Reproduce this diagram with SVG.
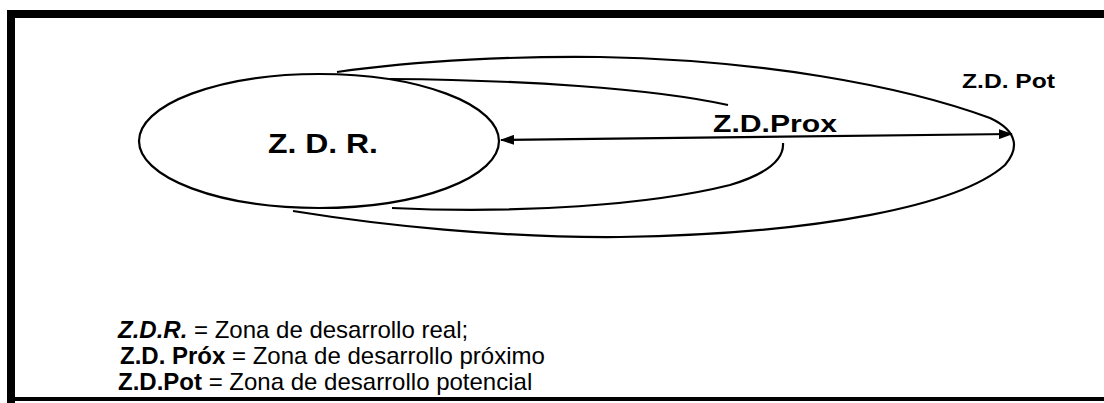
<svg xmlns="http://www.w3.org/2000/svg" width="1104" height="403" viewBox="0 0 1104 403">
  <style>
    .ln { fill: none; stroke: #000; stroke-width: 2.2; }
    .lbl { font-family: "Liberation Sans", Arial, sans-serif; fill: #000; }
    .b { font-weight: bold; }
  </style>
  <defs>
    <marker id="ah" viewBox="0 0 14 10" refX="13" refY="5" markerWidth="14" markerHeight="10" markerUnits="userSpaceOnUse" orient="auto-start-reverse">
      <path d="M0,0 L14,5 L0,10 Z" fill="#000"/>
    </marker>
  </defs>
  <rect width="1104" height="403" fill="#fff"/>
  <g id="frame" fill="#000">
    <rect x="7" y="10" width="1097" height="8"/>
    <rect x="7" y="10" width="8" height="393"/>
    <rect x="7" y="397" width="1097" height="4"/>
  </g>
  <g id="zdpot">
    <path class="ln" d="M337,72 C420,60 520,56 600,57 C760,60 900,85 990,118 C1020,132 1018,150 1005,165 C960,205 820,234 620,237 C500,238 380,225 293,211"/>
    <text class="lbl" x="962" y="88" font-size="21" font-weight="600" textLength="93" lengthAdjust="spacingAndGlyphs">Z.D. Pot</text>
  </g>
  <g id="zdprox">
    <path class="ln" d="M390,79 C520,80 650,88 728,105"/>
    <path class="ln" d="M392,208 C520,214 650,205 730,185 C770,173 784,158 783,143"/>
    <text class="lbl b" x="713" y="132" font-size="24" textLength="124" lengthAdjust="spacingAndGlyphs">Z.D.Prox</text>
  </g>
  <g id="zdr">
    <ellipse class="ln" cx="319" cy="141" rx="180" ry="67" fill="#fff"/>
    <text class="lbl b" x="268" y="153" font-size="28" textLength="110" lengthAdjust="spacingAndGlyphs">Z. D. R.</text>
  </g>
  <g id="connectors">
    <line class="ln" x1="501" y1="140" x2="1012" y2="134" marker-start="url(#ah)" marker-end="url(#ah)"/>
  </g>
  <g id="legend" class="lbl" font-size="24">
    <text x="118" y="338"><tspan class="b" font-style="italic">Z.D.R.</tspan> = Zona de desarrollo real;</text>
    <text x="120" y="364"><tspan class="b">Z.D. Próx</tspan> = Zona de desarrollo próximo</text>
    <text x="118" y="390"><tspan class="b">Z.D.Pot</tspan> = Zona de desarrollo potencial</text>
  </g>
</svg>
